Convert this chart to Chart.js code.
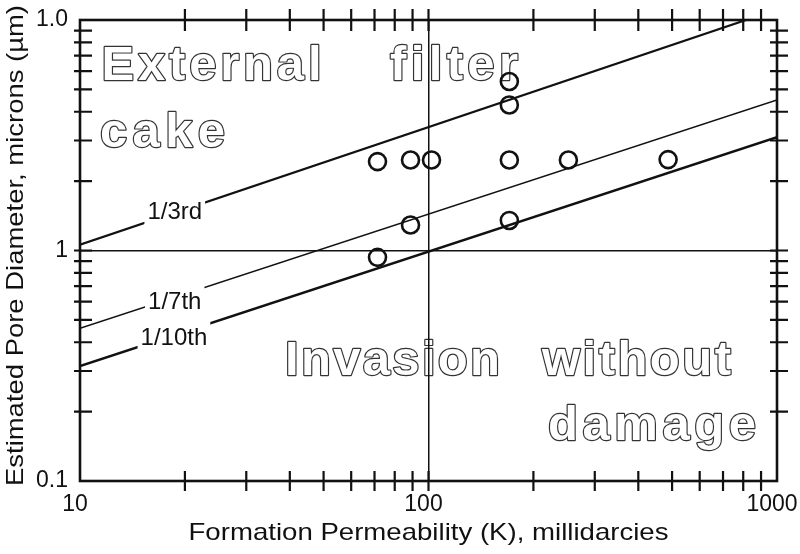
<!DOCTYPE html>
<html><head><meta charset="utf-8">
<script src="https://cdn.jsdelivr.net/npm/chart.js@4"></script>
<style>html,body{margin:0;padding:0;background:#fff}</style>
</head><body>
<canvas id="c" width="800" height="554"></canvas>
<script>
// ---- data ----
const permK = [71.4, 88.8, 102, 170.6, 252, 487, 170.6, 170.6, 88.8, 170.6, 71.4];
const poreD = [2.43, 2.47, 2.47, 2.47, 2.47, 2.48, 5.41, 4.28, 1.29, 1.35, 0.934];
const lineNames = ['1/3rd', '1/7th', '1/10th'];
const lineStartK = [10, 10, 10];
const lineStartD = [1.06, 0.46, 0.315];
const lineEndK = [815, 1000, 1000];
const lineEndD = [10, 4.5, 3.1];
const lineLabelK = [18.7, 18.7, 18.6];
const xTickValues = [10, 100, 1000];
const xTickLabels = ['10', '100', '1000'];
const yTickValues = [0.1, 1, 10];
const yTickLabels = ['0.1', '1', '1.0'];
const minorMultipliers = [2, 3, 4, 5, 6, 7, 8, 9];
const regionWords = ['External', 'filter', 'cake', 'Invasion', 'without', 'damage'];
const xTitle = 'Formation Permeability (K), millidarcies';
const yTitle = 'Estimated Pore Diameter, microns (µm)';

// ---- styling / layout (not data) ----
const FONT = '"Liberation Sans", Arial, Helvetica, sans-serif';
const INK = '#111';
const lineWidths = [2.2, 1.6, 2.6];
const lineLabelDy = [0, 5, 3];
// offsets (px) from chartArea left/top: x of word start, baseline y, target width
const wordLayout = [
  [21.5, 60, 220], [310, 60, 128], [20, 127, 125],
  [205, 355, 215], [462, 355, 189], [468, 420, 208]
];

function drawSpaced(ctx, text, x, y, targetW) {
  const chars = Array.from(text);
  const widths = chars.map(c => ctx.measureText(c).width);
  const natural = widths.reduce((s, w) => s + w, 0);
  const sp = chars.length > 1 ? (targetW - natural) / (chars.length - 1) : 0;
  const pos = [];
  let cx = x;
  chars.forEach((c, i) => { pos.push(cx); cx += widths[i] + sp; });
  chars.forEach((c, i) => ctx.strokeText(c, pos[i], y));
  chars.forEach((c, i) => ctx.fillText(c, pos[i], y));
}

function drawStretched(ctx, text, cx, y, targetW) {
  const w = ctx.measureText(text).width;
  ctx.save();
  ctx.translate(cx, y);
  ctx.scale(targetW / w, 1);
  ctx.textAlign = 'center';
  ctx.fillText(text, 0, 0);
  ctx.restore();
}

const decorPlugin = {
  id: 'decor',
  beforeDraw(chart) {
    const ctx = chart.ctx, a = chart.chartArea;
    ctx.save();
    ctx.fillStyle = '#fff';
    ctx.fillRect(0, 0, chart.width, chart.height);
    ctx.font = 'bold 49px ' + FONT;
    ctx.textBaseline = 'alphabetic';
    ctx.textAlign = 'left';
    ctx.lineJoin = 'round';
    ctx.strokeStyle = '#333';
    ctx.lineWidth = 2.4;
    ctx.fillStyle = '#fff';
    regionWords.forEach((w, i) => {
      const L = wordLayout[i];
      drawSpaced(ctx, w, a.left + L[0], a.top + L[1], L[2]);
    });
    ctx.restore();
  },
  afterDatasetsDraw(chart) {
    const ctx = chart.ctx, xs = chart.scales.x, ys = chart.scales.y;
    ctx.save();
    ctx.font = '24px ' + FONT;
    ctx.textAlign = 'center';
    ctx.textBaseline = 'middle';
    lineNames.forEach((name, i) => {
      const k = lineLabelK[i];
      const t = (Math.log10(k) - Math.log10(lineStartK[i])) / (Math.log10(lineEndK[i]) - Math.log10(lineStartK[i]));
      const ld = Math.log10(lineStartD[i]) + t * (Math.log10(lineEndD[i]) - Math.log10(lineStartD[i]));
      const px = xs.getPixelForValue(k), py = ys.getPixelForValue(Math.pow(10, ld));
      const w = ctx.measureText(name).width + 6;
      ctx.fillStyle = '#fff';
      ctx.fillRect(px - w / 2, py - 15, w, 30);
      ctx.fillStyle = INK;
      ctx.fillText(name, px, py + lineLabelDy[i]);
    });
    ctx.restore();
  },
  afterDraw(chart) {
    const ctx = chart.ctx, a = chart.chartArea, xs = chart.scales.x, ys = chart.scales.y;
    ctx.save();
    ctx.strokeStyle = INK;
    ctx.lineWidth = 2.6;
    ctx.strokeRect(a.left, a.top, a.right - a.left, a.bottom - a.top);
    ctx.lineWidth = 2.2;
    const xMarks = [], yMarks = [];
    for (let d = 10; d < 1000; d *= 10) minorMultipliers.forEach(m => xMarks.push(d * m));
    xMarks.push(100);
    [0.1, 1].forEach(d => minorMultipliers.forEach(m => yMarks.push(d * m)));
    yMarks.push(1);
    ctx.beginPath();
    xMarks.forEach(v => {
      const p = xs.getPixelForValue(v);
      ctx.moveTo(p, a.top - 11); ctx.lineTo(p, a.top + 11);
      ctx.moveTo(p, a.bottom - 10); ctx.lineTo(p, a.bottom + 10);
    });
    yMarks.forEach(v => {
      const p = ys.getPixelForValue(v);
      ctx.moveTo(a.left - 6, p); ctx.lineTo(a.left + 12, p);
      ctx.moveTo(a.right - 7, p); ctx.lineTo(a.right + 11, p);
    });
    ctx.stroke();
    // axis titles
    ctx.fillStyle = INK;
    ctx.font = '24px ' + FONT;
    ctx.textBaseline = 'alphabetic';
    const cx = (a.left + a.right) / 2;
    drawStretched(ctx, xTitle, cx, 540, 480);
    ctx.translate(23, 245.5);
    ctx.rotate(-Math.PI / 2);
    drawStretched(ctx, yTitle, 0, 0, 481);
    ctx.restore();
  }
};

const datasets = [{
  label: 'data',
  data: permK.map((k, i) => ({ x: k, y: poreD[i] })),
  showLine: false,
  pointRadius: 8.5,
  pointHoverRadius: 8.5,
  pointBorderWidth: 2.6,
  pointBorderColor: INK,
  pointBackgroundColor: 'rgba(0,0,0,0)'
}];
lineNames.forEach((n, i) => datasets.push({
  label: n,
  data: [{ x: lineStartK[i], y: lineStartD[i] }, { x: lineEndK[i], y: lineEndD[i] }],
  showLine: true,
  borderColor: INK,
  borderWidth: lineWidths[i],
  pointRadius: 0,
  fill: false
}));

new Chart(document.getElementById('c'), {
  type: 'scatter',
  data: { datasets },
  plugins: [decorPlugin],
  options: {
    responsive: false,
    animation: false,
    layout: { padding: { top: 20, right: 23, left: 0, bottom: 0 } },
    plugins: { legend: { display: false }, tooltip: { enabled: false } },
    scales: {
      x: {
        type: 'logarithmic', min: 10, max: 1000,
        afterBuildTicks: s => { s.ticks = xTickValues.map(v => ({ value: v })); },
        afterFit: s => { s.height = 73; s.paddingLeft = 0; s.paddingRight = 0; },
        border: { display: false },
        grid: {
          drawTicks: false,
          lineWidth: 1.5,
          color: c => (c.tick && c.tick.value === 100) ? INK : 'rgba(0,0,0,0)'
        },
        ticks: {
          autoSkip: false, maxRotation: 0, padding: 10, labelOffset: -5,
          color: INK, font: { size: 23, family: FONT },
          callback: (v, i) => xTickLabels[i]
        }
      },
      y: {
        type: 'logarithmic', min: 0.1, max: 10,
        afterBuildTicks: s => { s.ticks = yTickValues.map(v => ({ value: v })); },
        afterFit: s => { s.width = 80; s.paddingTop = 0; s.paddingBottom = 0; },
        border: { display: false },
        grid: {
          drawTicks: false,
          lineWidth: 1.5,
          color: c => (c.tick && c.tick.value === 1) ? INK : 'rgba(0,0,0,0)'
        },
        ticks: {
          autoSkip: false, padding: 12,
          color: INK, font: { size: 23, family: FONT },
          callback: (v, i) => yTickLabels[i]
        }
      }
    }
  }
});
</script>
</body></html>
